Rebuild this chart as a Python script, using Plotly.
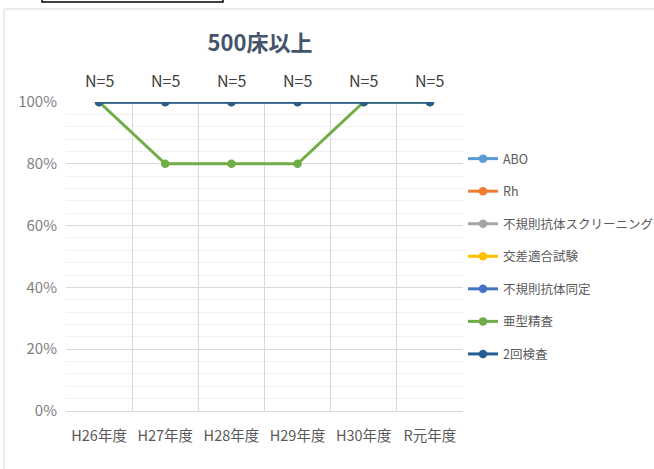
import plotly.graph_objects as go

categories = ["H26年度", "H27年度", "H28年度", "H29年度", "H30年度", "R元年度"]
series_names = ["ABO", "Rh", "不規則抗体スクリーニング", "交差適合試験", "不規則抗体同定", "亜型精査", "2回検査"]
abo = [1.0, 1.0, 1.0, 1.0, 1.0, 1.0]
rh = [1.0, 1.0, 1.0, 1.0, 1.0, 1.0]
screening = [1.0, 1.0, 1.0, 1.0, 1.0, 1.0]
crossmatch = [1.0, 1.0, 1.0, 1.0, 1.0, 1.0]
identification = [1.0, 1.0, 1.0, 1.0, 1.0, 1.0]
subtype = [1.0, 0.8, 0.8, 0.8, 1.0, 1.0]
double_check = [1.0, 1.0, 1.0, 1.0, 1.0, 1.0]
n_labels = ["N=5", "N=5", "N=5", "N=5", "N=5", "N=5"]

colors = ["#5B9BD5", "#ED7D31", "#A5A5A5", "#FFC000", "#4472C4", "#70AD47", "#255E91"]
values = [abo, rh, screening, crossmatch, identification, subtype, double_check]

W, H = 654, 469
L, R, T, B = 66, 463, 102, 411

FONT = "Noto Sans CJK JP"

fig = go.Figure()
for i, (name, vals, col) in enumerate(zip(series_names, values, colors)):
    fig.add_trace(go.Scatter(
        x=categories, y=vals, name=name, mode="lines+markers",
        line=dict(color=col, width=3),
        marker=dict(color=col, size=8.5),
        legendgroup=f"g{i}",
    ))

for cat, lab, v in zip(categories, n_labels, double_check):
    fig.add_annotation(x=cat, y=v, text=lab, showarrow=False, yshift=22,
                       font=dict(family=FONT, size=16, color="#404040"))

def px_x(px):
    return (px - L) / (R - L)

def px_y(py):
    return (B - py) / (B - T)

# outer chart frame
fig.add_shape(type="rect", xref="paper", yref="paper",
              x0=px_x(4), x1=px_x(700), y0=px_y(480), y1=px_y(9),
              line=dict(color="#D9D9D9", width=1), fillcolor="rgba(0,0,0,0)", layer="below")
# top black box fragment
fig.add_shape(type="rect", xref="paper", yref="paper",
              x0=px_x(42), x1=px_x(223), y0=px_y(2), y1=px_y(-10),
              line=dict(color="#000000", width=1.5), fillcolor="rgba(0,0,0,0)")

fig.update_layout(
    width=W, height=H,
    margin=dict(l=L, r=W - R, t=T, b=H - B, autoexpand=False),
    paper_bgcolor="white", plot_bgcolor="white",
    font=dict(family=FONT, color="#595959", size=13),
    title=dict(text="<b>500床以上</b>", x=260 / W, xref="container", xanchor="center",
               y=1 - 43 / H, yref="container", yanchor="middle",
               font=dict(family=FONT, size=22, color="#44546A")),
    showlegend=True,
    legend=dict(x=1.0, xanchor="left", y=px_y(144), yanchor="top",
                font=dict(family=FONT, size=12.5, color="#595959"),
                tracegroupgap=13.3, bgcolor="rgba(0,0,0,0)", itemclick=False),
    xaxis=dict(type="category", range=[-0.5, 5.5], tickson="boundaries",
               showgrid=True, gridcolor="#D9D9D9", gridwidth=1,
               showline=True, linecolor="#D9D9D9", ticks="", ticklen=0,
               tickfont=dict(family=FONT, size=14.5, color="#595959"),
               ticklabelstandoff=12,
               zeroline=False, fixedrange=True),
    yaxis=dict(range=[0, 1], dtick=0.2, tickformat=".0%",
               showgrid=True, gridcolor="#D9D9D9", gridwidth=1,
               minor=dict(dtick=0.04, showgrid=True, gridcolor="#F0F0F0", gridwidth=1),
               showline=False, zeroline=False, ticks="",
               tickfont=dict(family=FONT, size=15, color="#7F7F7F"),
               ticklabelstandoff=8, fixedrange=True),
)

fig.write_html("out.html")
